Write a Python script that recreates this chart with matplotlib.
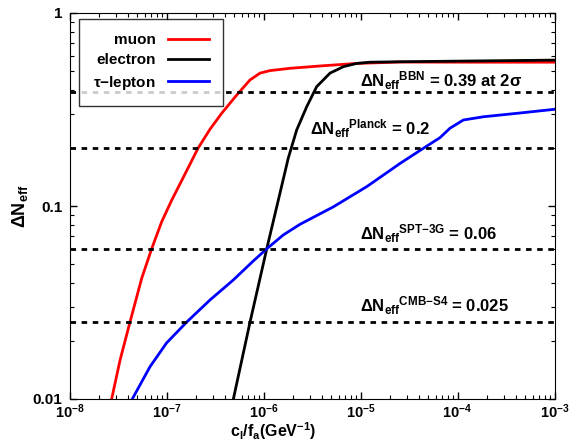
import matplotlib
matplotlib.use("Agg")
import matplotlib.pyplot as plt
from matplotlib.ticker import FixedLocator, FixedFormatter, LogLocator, NullFormatter

# muon (red)
mu_x = [2.72e-8, 3.32e-8, 4.21e-8, 5.55e-8, 7.03e-8, 8.93e-8, 1.13e-7, 1.75e-7,
        2.11e-7, 2.81e-7, 3.7e-7, 5.30e-7, 7.26e-7, 9.2e-7, 1.17e-6, 1.88e-6,
        4.13e-6, 9.14e-6, 2.55e-5, 1.35e-4, 1e-3]
mu_y = [0.01, 0.0159, 0.0251, 0.0422, 0.060, 0.083, 0.107, 0.165,
        0.199, 0.250, 0.302, 0.376, 0.450, 0.488, 0.503, 0.517,
        0.533, 0.548, 0.557, 0.556, 0.556]

# electron (black)
el_x = [4.89e-7, 7.26e-7, 1.08e-6, 1.42e-6, 1.80e-6, 2.20e-6, 2.79e-6, 3.53e-6,
        4.85e-6, 6.65e-6, 9.14e-6, 1.25e-5, 2.55e-5, 1.35e-4, 1e-3]
el_y = [0.01, 0.025, 0.060, 0.107, 0.177, 0.248, 0.327, 0.415,
        0.488, 0.527, 0.548, 0.556, 0.559, 0.564, 0.570]

# tau-lepton (blue)
tau_x = [4.44e-8, 6.76e-8, 1.0e-7, 1.61e-7, 2.81e-7, 4.89e-7, 7.85e-7, 1.08e-6,
         1.60e-6, 2.38e-6, 5.25e-6, 1.16e-5, 2.55e-5, 4.44e-5, 6.6e-5, 8.37e-5,
         1.15e-4, 1.85e-4, 4.07e-4, 1e-3]
tau_y = [0.01, 0.0147, 0.0195, 0.025, 0.0326, 0.0414, 0.0519, 0.060,
         0.0708, 0.0804, 0.099, 0.126, 0.166, 0.199, 0.226, 0.253,
         0.279, 0.290, 0.302, 0.317]

# experimental bounds and their labels
bounds = [0.39, 0.2, 0.06, 0.025]
bound_labels = [r"$\Delta$N$_{eff}{}^{BBN}$ = 0.39 at 2$\sigma$",
                r"$\Delta$N$_{eff}{}^{Planck}$ = 0.2",
                r"$\Delta$N$_{eff}{}^{SPT{-}3G}$ = 0.06",
                r"$\Delta$N$_{eff}{}^{CMB{-}S4}$ = 0.025"]
label_x = [1.0e-5, 3.0e-6, 1.0e-5, 1.0e-5]
label_y = [0.414, 0.233, 0.0667, 0.0282]

plt.rcParams["font.family"] = "Liberation Sans"
plt.rcParams["font.weight"] = "bold"
plt.rcParams["mathtext.fontset"] = "custom"
plt.rcParams["mathtext.rm"] = "Liberation Sans:bold"
plt.rcParams["mathtext.it"] = "Liberation Sans:bold"
plt.rcParams["mathtext.bf"] = "Liberation Sans:bold"
plt.rcParams["mathtext.sf"] = "Liberation Sans:bold"
plt.rcParams["mathtext.default"] = "rm"

fig = plt.figure(figsize=(5.71, 4.41), dpi=100)
ax = fig.add_axes([69.5 / 571, 1 - 399 / 441, 485 / 571, 386 / 441])

ax.plot(mu_x, mu_y, color="#ff0000", lw=2, label="muon")
ax.plot(el_x, el_y, color="black", lw=2, label="electron")
ax.plot(tau_x, tau_y, color="#0000ff", lw=2, label=r"$\tau$$-$lepton")

for b in bounds:
    ax.axhline(b, color="black", lw=2, ls=(0, (2, 2)))
for s, x, y in zip(bound_labels, label_x, label_y):
    ax.text(x, y, s, fontsize=12, fontweight="bold", va="baseline", ha="left")

ax.set_xscale("log")
ax.set_yscale("log")
ax.set_xlim(1e-8, 1e-3)
ax.set_ylim(0.01, 1)

ax.yaxis.set_major_locator(FixedLocator([0.01, 0.1, 1]))
ax.yaxis.set_major_formatter(FixedFormatter(["0.01", "0.1", "1"]))
ax.yaxis.set_minor_locator(LogLocator(base=10, subs=range(2, 10)))
ax.yaxis.set_minor_formatter(NullFormatter())
ax.xaxis.set_minor_locator(LogLocator(base=10, subs=range(2, 10)))
ax.xaxis.set_minor_formatter(NullFormatter())

ax.tick_params(which="both", direction="in", top=True, right=True, labelsize=11)
ax.tick_params(which="major", length=5, width=1)
ax.tick_params(which="minor", length=3, width=0.8)
ax.tick_params(axis="x", which="major", pad=2.5, labelsize=10.5)
ax.tick_params(axis="y", which="major", pad=5)
for lab in ax.get_xticklabels() + ax.get_yticklabels():
    lab.set_fontweight("bold")

ax.set_xlabel(r"c$_l$/f$_a$(GeV$^{-1}$)", fontsize=11.5, fontweight="bold")
ax.xaxis.set_label_coords((273 - 69.5) / 485, -0.056)
ax.set_ylabel(r"$\Delta$N$_{eff}$", fontsize=13, fontweight="bold")
ax.yaxis.set_label_coords(-0.082, 0.5)

leg = ax.legend(loc="upper left", bbox_to_anchor=(0.02, 0.984), borderaxespad=0,
                markerfirst=False, fontsize=11, handlelength=2.7, frameon=True,
                fancybox=False, edgecolor="black", borderpad=0.9, labelspacing=0.42)
leg.get_frame().set_linewidth(1)
for t in leg.get_texts():
    t.set_ha("right")
    t.set_fontweight("bold")

fig.savefig("out.png", dpi=100)
